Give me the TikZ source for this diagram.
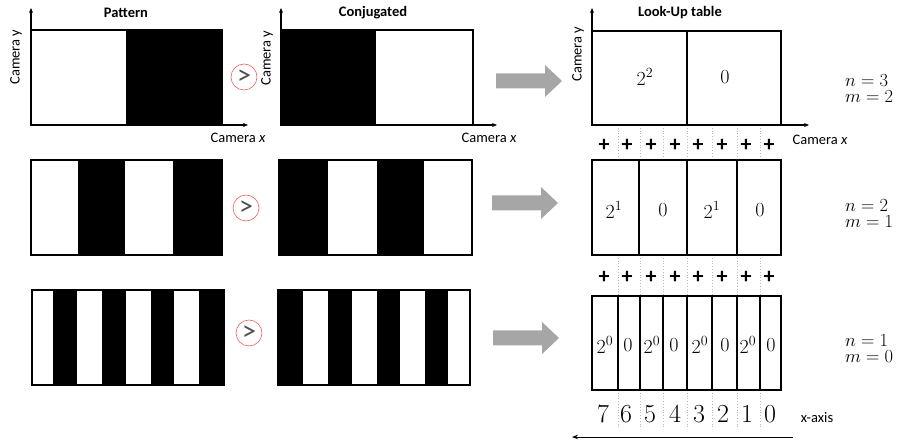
\RequirePackage{fix-cm}
\documentclass[tikz,border=0pt]{standalone}
\usepackage[no-math]{fontspec}
\setmainfont{Carlito}
\usetikzlibrary{arrows.meta}
\definecolor{arrowgray}{RGB}{166,166,166}
\definecolor{ringred}{RGB}{238,96,96}
\tikzset{
  blockarr/.pic={\fill[arrowgray] (0,-7.5) -- (49,-7.5) -- (49,-16) -- (66,0)
                 -- (49,16) -- (49,7.5) -- (0,7.5) -- cycle;}
}
\newcommand\levelnm[2]{$\begin{array}{@{}l@{}}n=#1\\[-2pt] m=#2\end{array}$}
\begin{document}
\begin{tikzpicture}[x=1pt,y=-1pt,
  lbl/.style={font=\fontsize{14.5}{16}\selectfont, inner sep=0pt},
  ttl/.style={font=\bfseries\fontsize{14.5}{16}\selectfont, inner sep=0pt},
  axis/.style={line width=1.2pt, -{Stealth[length=5pt,width=4pt]}},
  frame/.style={line width=1.4pt},
  cell/.style={font=\fontsize{20}{22}\selectfont, inner sep=0pt},
  nmlbl/.style={font=\fontsize{18.5}{18}\selectfont, inner sep=0pt},
  digit/.style={font=\fontsize{26}{28}\selectfont, inner sep=0pt},
  plus/.style={font=\bfseries\fontsize{22}{24}\selectfont, inner sep=0pt},
  sep/.style={gray!55, dotted, line width=0.8pt},
  ring/.style={circle, draw=ringred, line width=0.6pt, minimum size=26pt,
               inner sep=0pt},
  gt/.style={text=black!70, font=\fontsize{28}{28}\selectfont, inner sep=0pt},
]
\useasboundingbox (0,0) rectangle (905,443);

% ---------- titles ----------
\node[ttl] (tpat) at (126,13) {Pattern};
\node[ttl] (tcon) at (373,13) {Conjugated};
\node[ttl] (tlut) at (680,13) {Look-Up table};

% ---------- row 1: pattern / conjugated ----------
\fill[black] (126,30) rectangle (222,125);
\draw[frame] (31,30) rectangle (222,125);
\draw[axis] (31,125) -- (31,8);
\draw[axis] (31,125) -- (248,125);
\node[lbl, rotate=90] (py) at (16,57) {Camera y};
\node[lbl] (px) at (238,138) {Camera \textit{x}};

\fill[black] (281,30) rectangle (376,125);
\draw[frame] (281,30) rectangle (473,125);
\draw[axis] (281,125) -- (281,8);
\draw[axis] (281,125) -- (497,125);
\node[lbl, rotate=90] (cy) at (267,58) {Camera y};
\node[lbl] (cx) at (489,138) {Camera \textit{x}};

\node[ring] (r1) at (244,77) {};
\node[gt] (g1) at (r1) {>};

% ---------- row 2 ----------
\foreach \a/\b in {78/125,173/222} \fill[black] (\a,160) rectangle (\b,255);
\draw[frame] (31,160) rectangle (222,255);
\foreach \a/\b in {279/328,377/424} \fill[black] (\a,160) rectangle (\b,255);
\draw[frame] (279,160) rectangle (472,255);
\node[ring] (r2) at (246,208) {};
\node[gt] (g2) at (r2) {>};

% ---------- row 3 ----------
\foreach \a/\b in {53/77,102/126,151/174,199/224} \fill[black] (\a,290) rectangle (\b,385);
\draw[frame] (32,290) rectangle (224,385);
\foreach \a/\b in {278/303,328/352,377/400,425/448} \fill[black] (\a,290) rectangle (\b,385);
\draw[frame] (278,290) rectangle (470,385);
\node[ring] (r3) at (249,333) {};
\node[gt] (g3) at (r3) {>};

% ---------- block arrows ----------
\pic at (496,81) {blockarr};
\pic at (492,203) {blockarr};
\pic at (493,338) {blockarr};

% ---------- look-up table ----------
% dotted column guides between the tables
\foreach \x in {618,640,663,687,712,737,760} {
  \draw[sep] (\x,125) -- (\x,160);
  \draw[sep] (\x,255) -- (\x,296);
  \draw[sep] (\x,390) -- (\x,428);
}

% level n = 3
\draw[frame] (592,31) rectangle (781,125);
\draw[frame] (687,31) -- (687,125);
\draw[axis] (592,125) -- (592,8);
\draw[axis] (592,125) -- (809,125);
\node[lbl, rotate=90] (ly) at (578,54) {Camera y};
\node[lbl] (lx) at (820,140) {Camera \textit{x}};
\node[cell] (c11) at (645,77) {$2^2$};
\node[cell] (c12) at (725,77) {$0$};
\node[nmlbl, anchor=west] (nm1) at (845,91) {\levelnm{3}{2}};

\foreach \x [count=\i] in {604,627,651,675,698,722,746,769}
  \node[plus] (pa\i) at (\x,145) {+};

% level n = 2
\draw[frame] (592,160) rectangle (781,255);
\foreach \x in {639,687,737} \draw[frame] (\x,160) -- (\x,255);
\node[cell] (c21) at (614,210) {$2^1$};
\node[cell] (c22) at (663,210) {$0$};
\node[cell] (c23) at (712,210) {$2^1$};
\node[cell] (c24) at (760,210) {$0$};
\node[nmlbl, anchor=west] (nm2) at (845,216) {\levelnm{2}{1}};

\foreach \x [count=\i] in {604,627,651,675,698,722,746,769}
  \node[plus] (pb\i) at (\x,277) {+};

% level n = 1
\draw[frame] (592,296) rectangle (781,390);
\foreach \x in {618,640,663,687,712,737,760} \draw[frame] (\x,296) -- (\x,390);
\foreach \x/\t [count=\i] in {605/2^0,628/0,652/2^0,674/0,700/2^0,725/0,748/2^0,771/0}
  \node[cell] (c3\i) at (\x,345) {$\t$};
\node[nmlbl, anchor=west] (nm3) at (845,351) {\levelnm{1}{0}};

% pixel indices along x
\foreach \x/\d [count=\i] in {603/7,626/6,650/5,675/4,699/3,723/2,747/1,770/0}
  \node[digit] (d\i) at (\x,414) {$\d$};

\coordinate (xs) at (793,437);
\coordinate (xe) at (572,437);
\draw[line width=1pt, -{Stealth[length=6pt,width=4.5pt]}] (xs) -- (xe);
\node[lbl] (xlab) at (817,418) {x-axis};
\end{tikzpicture}
\end{document}
